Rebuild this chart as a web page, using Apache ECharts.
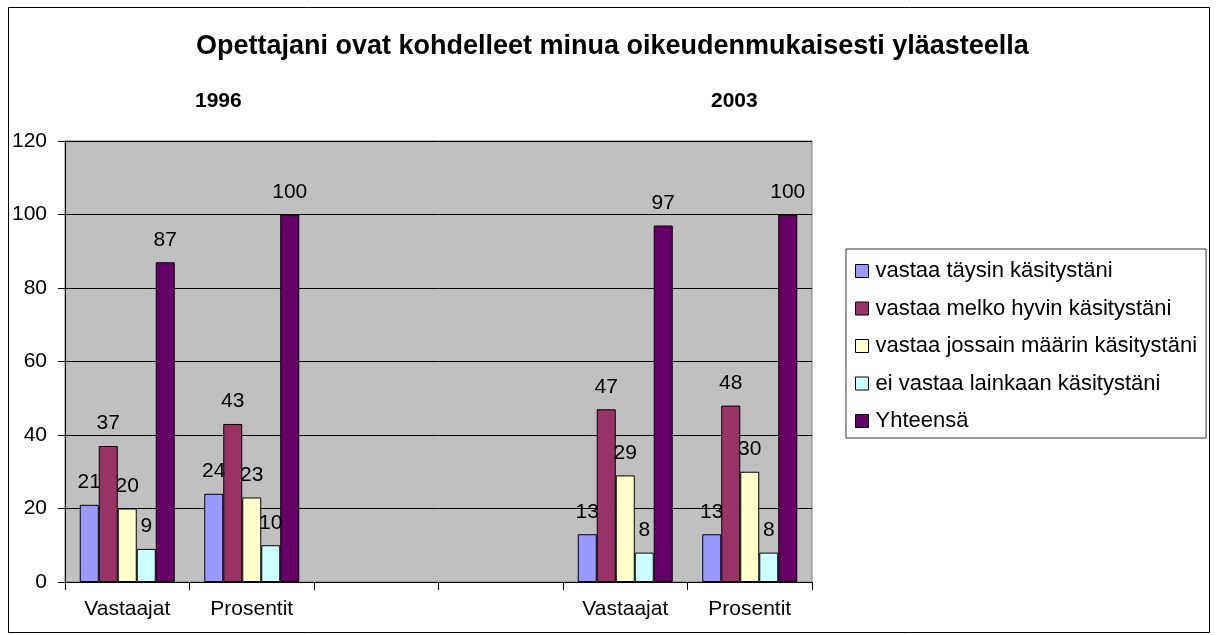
<!DOCTYPE html>
<html lang="fi">
<head>
    <meta charset="UTF-8">
    <title>Opettajani ovat kohdelleet minua oikeudenmukaisesti yläasteella</title>
    <script src="https://cdn.jsdelivr.net/npm/echarts@6/dist/echarts.min.js"></script>
    <style>
        html, body { margin: 0; padding: 0; background: #fff; }
        #main { width: 1218px; height: 635px; }
    </style>
</head>
<body>
<div id="main"></div>
<script>
    // data
    var categories = ['Vastaajat', 'Prosentit', '', '', 'Vastaajat', 'Prosentit'];
    var seriesNames = ['vastaa täysin käsitystäni', 'vastaa melko hyvin käsitystäni',
        'vastaa jossain määrin käsitystäni', 'ei vastaa lainkaan käsitystäni', 'Yhteensä'];
    var taysin = [21, 24, null, null, 13, 13];
    var melko = [37, 43, null, null, 47, 48];
    var jossain = [20, 23, null, null, 29, 30];
    var eiLainkaan = [9, 10, null, null, 8, 8];
    var yhteensa = [87, 100, null, null, 97, 100];
    var years = ['1996', '2003'];
    var colors = ['#9999ff', '#993366', '#ffffcc', '#ccffff', '#660066'];

    var font = 'Liberation Sans, Arial, sans-serif';
    var values = [taysin, melko, jossain, eiLainkaan, yhteensa];

    var series = values.map(function (d, i) {
        return {
            name: seriesNames[i],
            type: 'bar',
            data: d,
            barWidth: 19,
            barGap: '0%',
            itemStyle: {color: colors[i], borderColor: '#000', borderWidth: 1},
            label: {
                show: true,
                position: 'top',
                distance: 12,
                color: '#000',
                fontFamily: font,
                fontSize: 21
            },
            emphasis: {disabled: true}
        };
    });

    var chart = echarts.init(document.getElementById('main'));
    chart.setOption({
        animation: false,
        backgroundColor: '#fff',
        color: colors,
        title: [{
            text: 'Opettajani ovat kohdelleet minua oikeudenmukaisesti yläasteella',
            left: 196,
            top: 33,
            padding: 0,
            textStyle: {fontFamily: font, fontSize: 27, fontWeight: 'bold', color: '#000'}
        }, {
            text: years[0],
            left: 195,
            top: 91,
            padding: 0,
            textStyle: {fontFamily: font, fontSize: 21, fontWeight: 'bold', color: '#000'}
        }, {
            text: years[1],
            left: 711,
            top: 91,
            padding: 0,
            textStyle: {fontFamily: font, fontSize: 21, fontWeight: 'bold', color: '#000'}
        }],
        graphic: [{
            type: 'rect',
            shape: {x: 8.5, y: 7.5, width: 1201, height: 625},
            style: {fill: 'none', stroke: '#000', lineWidth: 1},
            silent: true
        }],
        legend: {
            orient: 'vertical',
            left: 846,
            top: 249,
            padding: [11, 9, 6, 9],
            borderColor: '#333',
            borderWidth: 1,
            itemGap: 15.5,
            itemWidth: 13,
            itemHeight: 13,
            icon: 'rect',
            itemStyle: {borderColor: '#000', borderWidth: 1},
            textStyle: {fontFamily: font, fontSize: 22, color: '#000', padding: [0, 0, 0, 2]},
            data: seriesNames
        },
        grid: {
            left: 65,
            right: 406,
            top: 141,
            bottom: 53,
            show: true,
            backgroundColor: '#c0c0c0',
            borderColor: '#808080',
            borderWidth: 1
        },
        xAxis: {
            type: 'category',
            data: categories,
            axisLine: {lineStyle: {color: '#000', width: 1}},
            axisTick: {show: true, length: 8, lineStyle: {color: '#000'}},
            axisLabel: {color: '#000', fontFamily: font, fontSize: 21, margin: 17, interval: 0},
            splitLine: {show: false}
        },
        yAxis: {
            type: 'value',
            min: 0,
            max: 120,
            interval: 20,
            axisLine: {show: true, lineStyle: {color: '#000', width: 1}},
            axisTick: {show: true, length: 7, lineStyle: {color: '#000'}},
            axisLabel: {color: '#000', fontFamily: font, fontSize: 21, margin: 18},
            splitLine: {show: true, lineStyle: {color: '#000', width: 1}}
        },
        series: series
    });
</script>
</body>
</html>
